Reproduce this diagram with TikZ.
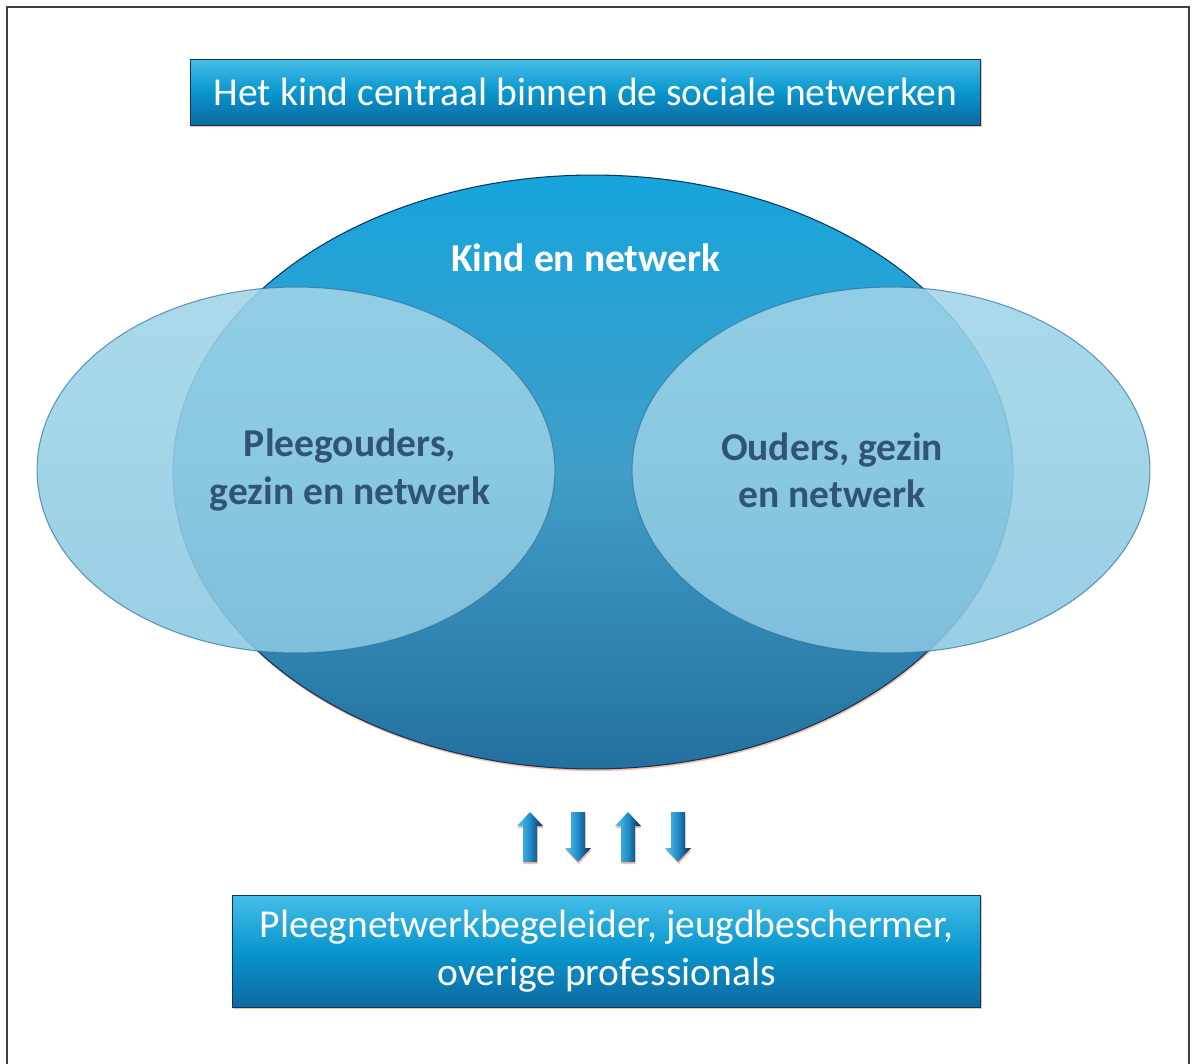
\documentclass[tikz,border=0pt]{standalone}
\usepackage{fontspec}
\setmainfont{Carlito}
\usetikzlibrary{shapes.geometric,shadows}

\definecolor{boxtop}{RGB}{70,190,232}
\definecolor{boxmid}{RGB}{8,150,205}
\definecolor{boxbot}{RGB}{14,105,160}
\definecolor{boxedge}{RGB}{10,55,95}
\definecolor{kindtop}{RGB}{22,165,220}
\definecolor{kindmid}{RGB}{65,158,200}
\definecolor{kindbot}{RGB}{35,112,158}
\definecolor{sidetop}{RGB}{160,212,232}
\definecolor{sidebot}{RGB}{138,200,226}
\definecolor{sideedge}{RGB}{45,115,155}
\definecolor{sidetext}{RGB}{48,84,118}
\definecolor{peach}{RGB}{245,170,145}
\definecolor{arrlight}{RGB}{90,195,232}
\definecolor{arrmid}{RGB}{30,140,200}
\definecolor{arrdark}{RGB}{12,40,85}

\begin{document}
\begin{tikzpicture}[x=0.02cm,y=-0.02cm,
  peachshadow/.style={drop shadow={shadow xshift=0.4pt,shadow yshift=-1.2pt,fill=peach,opacity=.8}},
  banner/.style={rectangle,inner sep=0pt,top color=boxtop,bottom color=boxbot,middle color=boxmid,
    draw=boxedge,line width=.5pt,text=white,peachshadow,
    font=\fontsize{22.5}{27}\selectfont,align=center},
  kindshape/.style={ellipse,inner sep=0pt,minimum width=16.8cm,minimum height=11.88cm,
    top color=kindtop,bottom color=kindbot,middle color=kindmid,draw=boxedge,line width=.6pt,peachshadow},
  sideshape/.style={ellipse,inner sep=0pt,minimum width=10.36cm,minimum height=7.32cm,
    top color=sidetop,bottom color=sidebot,fill opacity=.88,draw=sideedge,draw opacity=.7,line width=.6pt},
  sidelabel/.style={text=sidetext,font=\bfseries\fontsize{22.5}{27}\selectfont,align=center}]
  \useasboundingbox (0,0) rectangle (1193,1064);
  \draw[line width=1.1pt,black!75] (7,1064) -- (7,7) -- (1189,7) -- (1189,1064);

  % titel bovenaan
  \node[banner,minimum width=15.82cm,minimum height=1.32cm] (titel) at (585.5,92)
    {Het kind centraal binnen de sociale netwerken};

  % de drie netwerken
  \node[kindshape] (kind) at (593,472) {};
  \node[sideshape] (pleeg) at (296,470) {};
  \node[sideshape] (ouders) at (891,470) {};
  \node[text=white,font=\bfseries\fontsize{22.5}{27}\selectfont] (kindtxt) at (586,258) {Kind en netwerk};
  \node[sidelabel] (pleegtxt) at (350,470) {Pleegouders,\\gezin en netwerk};
  \node[sidelabel] (ouderstxt) at (832,470) {Ouders, gezin\\en netwerk};

  % pijlen op en neer
  \foreach \x/\dir in {530/1,578/-1,628/1,678/-1}
    \path[peachshadow,left color=arrlight,right color=arrdark,middle color=arrmid]
      (\x-7,837+25*\dir) -- (\x-7,837-11*\dir) -- (\x-13,837-11*\dir) -- (\x,837-25*\dir)
      -- (\x+13,837-11*\dir) -- (\x+7,837-11*\dir) -- (\x+7,837+25*\dir) -- cycle;

  % professionals onderaan
  \node[banner,minimum width=14.98cm,minimum height=2.24cm] (prof) at (606.5,951)
    {Pleegnetwerkbegeleider, jeugdbeschermer,\\overige professionals};
\end{tikzpicture}
\end{document}
